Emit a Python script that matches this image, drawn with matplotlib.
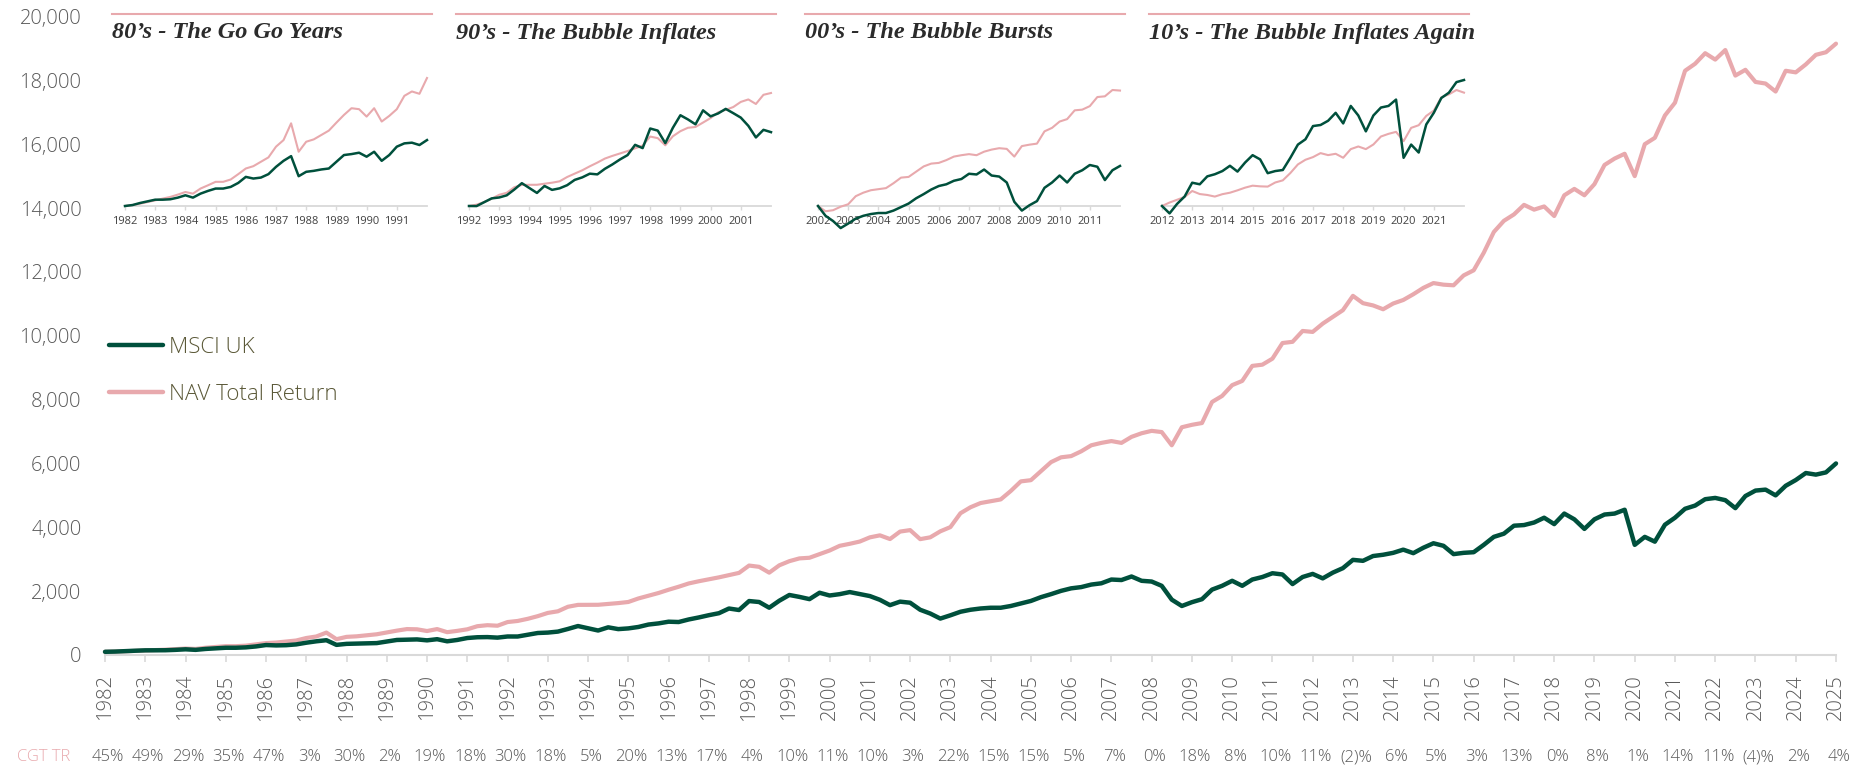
import numpy as np
import matplotlib
matplotlib.use('Agg')
import matplotlib.pyplot as plt
from matplotlib.lines import Line2D
from matplotlib.ticker import FuncFormatter
from matplotlib import transforms

# ---------------- data (quarterly) ----------------
nav = [
    100, 107, 117, 129,        # 1982
    141, 154, 166, 183,        # 1983
    202, 190, 227, 251,        # 1984
    276, 276, 293, 332,        # 1985
    373, 390, 422, 454,        # 1986
    532, 580, 702, 495,        # 1987
    568, 585, 617, 649,        # 1988
    707, 763, 812, 805,        # 1989
    751, 812, 715, 756,        # 1990
    805, 902, 934, 917,        # 1991
    1032, 1066, 1133, 1217,    # 1992
    1318, 1369, 1511, 1570,    # 1993
    1572, 1573, 1600, 1626,    # 1994
    1661, 1771, 1857, 1942,    # 1995
    2044, 2138, 2241, 2310,    # 1996
    2371, 2432, 2502, 2572,    # 1997
    2802, 2762, 2579, 2809,    # 1998
    2939, 3026, 3046, 3159,    # 1999
    3273, 3420, 3483, 3554,    # 2000
    3685, 3748, 3632, 3866,    # 2001
    3912, 3629, 3686, 3874,    # 2002
    4006, 4440, 4628, 4760,    # 2003
    4817, 4873, 5137, 5438,    # 2004
    5476, 5759, 6041, 6192,    # 2005
    6230, 6380, 6569, 6644,    # 2006
    6701, 6644, 6833, 6946,    # 2007
    7021, 6983, 6569, 7134,    # 2008
    7210, 7266, 7926, 8114,    # 2009
    8453, 8585, 9056, 9094,    # 2010
    9282, 9772, 9810, 10150,   # 2011
    10120, 10380, 10590, 10800,  # 2012
    11250, 11020, 10950, 10830,  # 2013
    11010, 11120, 11300, 11500,  # 2014
    11650, 11600, 11580, 11890,  # 2015
    12050, 12600, 13250, 13600,  # 2016
    13800, 14100, 13950, 14050,  # 2017
    13750, 14400, 14600, 14400,  # 2018
    14750, 15350, 15550, 15700,  # 2019
    15000, 16000, 16200, 16900,  # 2020
    17300, 18300, 18520, 18850,  # 2021
    18650, 18950, 18150, 18330,  # 2022
    17950, 17900, 17650, 18300,  # 2023
    18250, 18500, 18800, 18880,  # 2024
    19150,                       # 2025
]

msci = [
    100, 107, 122, 134,        # 1982
    146, 146, 149, 161,        # 1983
    178, 161, 190, 210,        # 1984
    227, 227, 239, 268,        # 1985
    312, 300, 307, 332,        # 1986
    385, 429, 463, 317,        # 1987
    349, 356, 366, 373,        # 1988
    422, 471, 478, 488,        # 1989
    459, 495, 429, 471,        # 1990
    532, 556, 561, 544,        # 1991
    580, 579, 634, 689,        # 1992
    702, 733, 816, 907,        # 1993
    837, 767, 867, 811,        # 1994
    833, 878, 954, 990,        # 1995
    1043, 1033, 1113, 1176,    # 1996
    1247, 1309, 1456, 1409,    # 1997
    1690, 1660, 1481, 1700,    # 1998
    1880, 1820, 1750, 1950,    # 1999
    1864, 1906, 1971, 1910,    # 2000
    1846, 1728, 1562, 1671,    # 2001
    1638, 1417, 1299, 1141,    # 2002
    1243, 1354, 1417, 1457,    # 2003
    1480, 1480, 1535, 1614,    # 2004
    1693, 1812, 1906, 2009,    # 2005
    2088, 2127, 2206, 2246,    # 2006
    2364, 2348, 2459, 2324,    # 2007
    2301, 2167, 1733, 1535,    # 2008
    1654, 1748, 2048, 2167,    # 2009
    2324, 2167, 2364, 2443,    # 2010
    2561, 2522, 2222, 2443,    # 2011
    2540, 2400, 2580, 2720,    # 2012
    2980, 2950, 3100, 3140,    # 2013
    3200, 3300, 3190, 3360,    # 2014
    3500, 3420, 3160, 3200,    # 2015
    3220, 3450, 3700, 3800,    # 2016
    4050, 4070, 4150, 4300,    # 2017
    4100, 4430, 4250, 3950,    # 2018
    4250, 4400, 4430, 4550,    # 2019
    3450, 3700, 3550, 4080,    # 2020
    4300, 4580, 4680, 4880,    # 2021
    4920, 4850, 4600, 4980,    # 2022
    5150, 5180, 5000, 5300,    # 2023
    5480, 5700, 5650, 5720,    # 2024
    6000,                      # 2025
]

tick_years = list(range(1982, 2026))
cgt_tr = ['45%', '49%', '29%', '35%', '47%', '3%', '30%', '2%', '19%', '18%',
          '30%', '18%', '5%', '20%', '13%', '17%', '4%', '10%', '11%', '10%',
          '3%', '22%', '15%', '15%', '5%', '7%', '0%', '18%', '8%', '10%',
          '11%', '(2)%', '6%', '5%', '3%', '13%', '0%', '8%', '1%', '14%',
          '11%', '(4)%', '2%', '4%']
series_labels = ['MSCI UK', 'NAV Total Return']
row_label = 'CGT TR'
inset_titles = ['80\u2019s - The Go Go Years', '90\u2019s - The Bubble Inflates',
                '00\u2019s - The Bubble Bursts', '10\u2019s - The Bubble Inflates Again']
inset_starts = [1982, 1992, 2002, 2012]

# ---------------- style ----------------
GREEN = '#00503C'
PINK = '#E8A9AD'
GRAY = '#595959'
AXGRAY = '#D9D9D9'
LEGTXT = '#5A5837'
SANS = 'Open Sans'
SERIF = 'Liberation Serif'

W, H = 1866, 768
fig = plt.figure(figsize=(W / 100, H / 100), dpi=100)
fig.patch.set_facecolor('white')


def fx(px):
    return px / W


def fy(py):
    return 1 - py / H


dates = 1982 + np.arange(len(nav)) / 4.0
nav_a = np.array(nav, dtype=float)
msci_a = np.array(msci, dtype=float)

# ---------------- main axes ----------------
ax = fig.add_axes([fx(105), fy(655), fx(1836) - fx(105), fy(16.5) - fy(655)])
ax.plot(dates, nav_a, color=PINK, lw=3.0, solid_joinstyle='round',
        solid_capstyle='round', clip_on=False, zorder=3)
ax.plot(dates, msci_a, color=GREEN, lw=3.2, solid_joinstyle='round',
        solid_capstyle='round', clip_on=False, zorder=4)
ax.set_xlim(1982, 2025)
ax.set_ylim(0, 20000)
for s in ['top', 'right', 'left']:
    ax.spines[s].set_visible(False)
ax.spines['bottom'].set_color(AXGRAY)
ax.spines['bottom'].set_linewidth(1.5)
ax.set_xticks(tick_years)
ax.set_xticklabels([str(y) for y in tick_years], rotation=90,
                   fontsize=14.5, color=GRAY, family=SANS, fontweight='light')
ax.tick_params(axis='x', length=5, color=AXGRAY, width=1.2, pad=9)
ax.set_yticks(np.arange(0, 20001, 2000))
ax.yaxis.set_major_formatter(FuncFormatter(lambda v, p: f'{v:,.0f}'))
ax.tick_params(axis='y', length=0, pad=17)
for lab in ax.get_yticklabels():
    lab.set_fontsize(14.5)
    lab.set_color(GRAY)
    lab.set_family(SANS)
    lab.set_fontweight('light')

# legend
h1 = Line2D([], [], color=GREEN, lw=3.2, solid_capstyle='round')
h2 = Line2D([], [], color=PINK, lw=3.2, solid_capstyle='round')
leg = ax.legend([h1, h2], series_labels, loc='upper left',
                bbox_to_anchor=(fx(109), fy(337)), bbox_transform=fig.transFigure,
                frameon=False, prop={'family': SANS, 'size': 16, 'weight': 'light'},
                handlelength=2.45, handletextpad=0.25, labelspacing=1.18,
                borderpad=0, borderaxespad=0)
for t in leg.get_texts():
    t.set_color(LEGTXT)

# CGT TR row
trans = transforms.blended_transform_factory(ax.transData, fig.transFigure)
trans = transforms.offset_copy(trans, fig=fig, x=3, y=0, units='dots')
for yr, txt in zip(tick_years, cgt_tr):
    ax.text(yr, fy(757), txt, transform=trans, ha='center', va='center',
            fontsize=12, color=GRAY, family=SANS, fontweight='light', clip_on=False)
fig.text(fx(17), fy(757), row_label, ha='left', va='center', fontsize=12,
         color=PINK, family=SANS, fontweight='light')

# ---------------- insets ----------------
inset_left_px = [125, 469, 818, 1162]
inset_top_px = [78, 93, 90, 80]
IN_BOT, IN_TOP = 206, 60
for i, start in enumerate(inset_starts):
    left = inset_left_px[i]
    iax = fig.add_axes([fx(left), fy(IN_BOT), fx(302), fy(IN_TOP) - fy(IN_BOT)])
    m = (dates >= start - 1e-9) & (dates <= start + 10 + 1e-9)
    d = dates[m]
    rn = nav_a[m] / nav_a[m][0]
    rs = msci_a[m] / msci_a[m][0]
    iax.plot(d, rn, color=PINK, lw=1.5, clip_on=False, zorder=3)
    iax.plot(d, rs, color=GREEN, lw=1.8, clip_on=False, zorder=4)
    dmax = max(rn.max(), rs.max())
    frac = (IN_BOT - inset_top_px[i]) / (IN_BOT - IN_TOP)
    iax.set_ylim(1, 1 + (dmax - 1) / frac)
    iax.set_xlim(start, start + 10)
    iax.set_xticks(list(range(start, start + 10)))
    iax.set_xticklabels([str(y) for y in range(start, start + 10)],
                        fontsize=8, color='#404040', family=SANS)
    iax.tick_params(axis='x', length=3, color=AXGRAY, width=1.0, pad=4)
    iax.set_yticks([])
    for s in ['top', 'right', 'left']:
        iax.spines[s].set_visible(False)
    iax.spines['bottom'].set_color(AXGRAY)
    iax.spines['bottom'].set_linewidth(1.3)
    iax.patch.set_alpha(0)
    # title rule + title
    fig.add_artist(Line2D([fx(left - 13), fx(left - 13 + 320)], [fy(14), fy(14)],
                          color=PINK, lw=1.5, transform=fig.transFigure))
    fig.text(fx(left - 13), fy(33), inset_titles[i], ha='left', va='center',
             fontsize=17.5, fontstyle='italic', fontweight='bold', family=SERIF,
             color='#2B2B2B')

fig.savefig('out.png', dpi=100, facecolor='white')
